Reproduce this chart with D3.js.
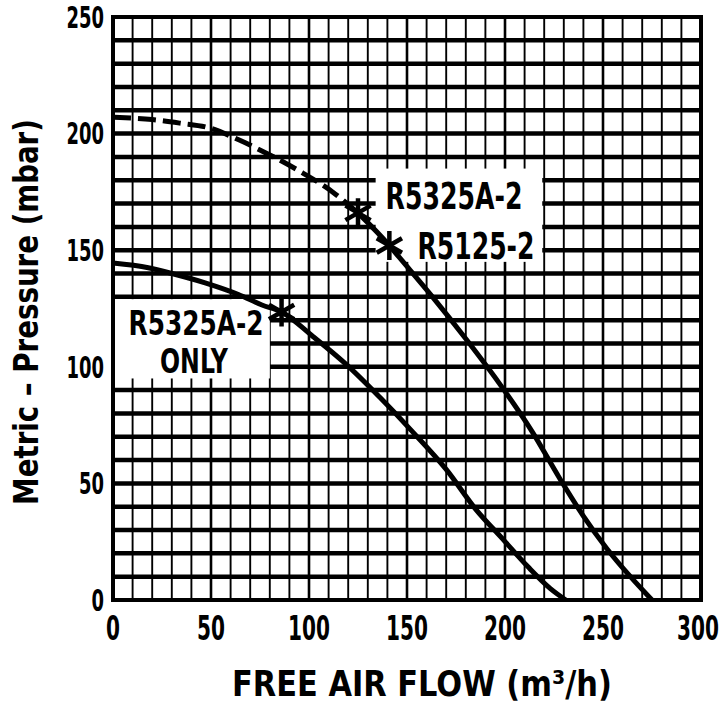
<!DOCTYPE html>
<html><head><meta charset="utf-8">
<script src="https://cdn.jsdelivr.net/npm/d3@7"></script>
<style>
html,body{margin:0;padding:0;background:#fff;}
text{font-family:"Liberation Sans Narrow","DejaVu Sans Condensed","Liberation Sans",sans-serif;font-weight:bold;fill:#000;}
</style></head>
<body><svg id="chart" width="726" height="703"></svg>
<script>
// ---- data ----
const xTicks = [0, 50, 100, 150, 200, 250, 300];
const yTicks = [0, 50, 100, 150, 200, 250];
const upperDashedX = [0, 20, 34, 49, 65, 78, 95, 112, 125];
const upperDashedY = [207, 206, 204.5, 202.5, 197, 191.7, 184, 175, 166];
const upperSolidX = [125, 141, 146, 163, 180, 197, 214, 228, 240, 252, 264, 275];
const upperSolidY = [166, 152, 147, 130, 112, 93, 72, 52, 36, 22, 10, 0];
const lowerX = [0, 18, 30, 47, 64, 76, 86, 102, 119, 136, 153, 170, 185, 199, 212, 223, 231];
const lowerY = [144.5, 142.5, 140, 136, 131, 126.5, 123.5, 113, 101, 87, 72, 56, 39, 26, 14, 5, 0];
const markerX = [125, 141, 86];
const markerY = [166, 152, 123.5];
const xTitle = "FREE AIR FLOW (m³/h)";
const yTitle = "Metric – Pressure (mbar)";

const svg = d3.select("#chart");
const x = d3.scaleLinear().domain([0, 300]).range([113, 701]);
const y = d3.scaleLinear().domain([0, 250]).range([600, 17]);

// grid
const g = svg.append("g");
g.selectAll("line.v").data(d3.range(10, 300, 10)).join("line")
  .attr("x1", d => x(d)).attr("x2", d => x(d))
  .attr("y1", y(250)).attr("y2", y(0))
  .attr("stroke", "#000").attr("stroke-width", d => d % 50 === 0 ? 2.6 : 1.9);
g.selectAll("line.h").data(d3.range(10, 250, 10)).join("line")
  .attr("x1", x(0)).attr("x2", x(300))
  .attr("y1", d => y(d)).attr("y2", d => y(d))
  .attr("stroke", "#000").attr("stroke-width", 4.5);

// label boxes (white)
svg.append("rect").attr("x", x(134)).attr("y", y(185)).attr("width", x(219) - x(134)).attr("height", y(145) - y(185)).attr("fill", "#fff");
svg.append("rect").attr("x", x(0) + 2).attr("y", y(129)).attr("width", x(79) - x(0)).attr("height", y(95) - y(129)).attr("fill", "#fff");

// border
svg.append("rect").attr("x", x(0)).attr("y", y(250)).attr("width", x(300) - x(0)).attr("height", y(0) - y(250))
  .attr("fill", "none").attr("stroke", "#000").attr("stroke-width", 4);

// curves
const line = d3.line().x(d => x(d[0])).y(d => y(d[1])).curve(d3.curveMonotoneX);
svg.append("path").datum(d3.zip(upperDashedX, upperDashedY)).attr("d", line)
  .attr("fill", "none").attr("stroke", "#000").attr("stroke-width", 5).attr("stroke-dasharray", "18,7");
svg.append("path").datum(d3.zip(upperSolidX, upperSolidY)).attr("d", line)
  .attr("fill", "none").attr("stroke", "#000").attr("stroke-width", 5);
svg.append("path").datum(d3.zip(lowerX, lowerY)).attr("d", line)
  .attr("fill", "none").attr("stroke", "#000").attr("stroke-width", 5);

// markers
svg.selectAll("path.m").data(d3.zip(markerX, markerY)).join("path")
  .attr("transform", d => `translate(${x(d[0])},${y(d[1])})`)
  .attr("d", d3.symbol(d3.symbolAsterisk, 600))
  .attr("fill", "none").attr("stroke", "#000").attr("stroke-width", 4.5);

// text helper: places text, squeezes horizontally to a target width
// anchor: "middle" | "end" | "start"; rot: rotation in degrees
function fitText(t, cx, cy, w, fs, anchor = "middle", rot = 0) {
  const grp = svg.append("g");
  const el = grp.append("text").attr("text-anchor", anchor).attr("dominant-baseline", "central")
    .attr("font-size", fs).text(t);
  const nat = el.node().getComputedTextLength();
  const s = Math.min(1, w / nat);
  grp.attr("transform", `translate(${cx},${cy}) rotate(${rot}) scale(${s},1)`);
  return grp;
}

// tick labels
xTicks.forEach(d => fitText(String(d), x(d) - (d === 300 ? 3 : 0), 629, String(d).length * 14, 33));
yTicks.forEach(d => fitText(String(d), 104, y(d), String(d).length * 12.5, 31, "end"));

// titles
fitText(xTitle, 422, 684, 380, 35);
fitText(yTitle, 27, 312, 386, 33, "middle", -90);

// curve labels
fitText("R5325A-2", 454, 197, 137, 37);
fitText("R5125-2", 476, 247, 117, 37);
fitText("R5325A-2", 196, 324, 135, 33);
fitText("ONLY", 194, 361, 68, 33);
</script></body></html>
